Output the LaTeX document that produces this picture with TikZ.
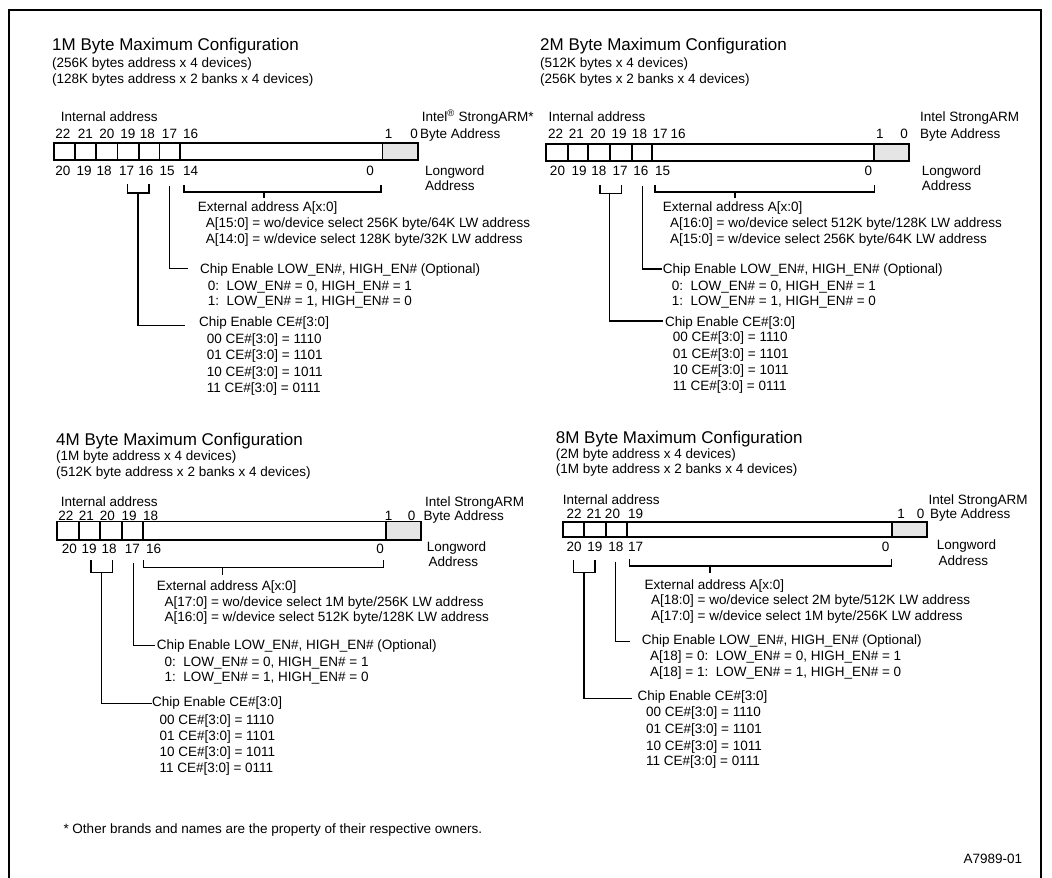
\documentclass[tikz,border=0pt]{standalone}
\usepackage{fontspec}
\setmainfont{Liberation Sans}
\newcommand\txtbody{\fontsize{13.5}{16}\selectfont}
\newcommand\txttitle{\fontsize{17}{20}\selectfont}
\definecolor{bytegray}{RGB}{229,229,229}
\tikzset{
  lbl/.style={anchor=base west, inner sep=0pt, font=\txtbody},
  ttl/.style={anchor=base west, inner sep=0pt, font=\txttitle},
  bitc/.style={anchor=base, inner sep=0pt, font=\txtbody},
  regline/.style={line width=1.8pt},
  wire/.style={line width=1.5pt},
}
\begin{document}
\begin{tikzpicture}[x=1pt,y=-1pt]
\useasboundingbox (0,0) rectangle (1052,878);
% outer frame
\draw[line width=1.8pt] (9,878) -- (9,10) -- (1041,10) -- (1041,878);

% ================= 1M byte configuration =================
\node[ttl] (q1t) at (52,50) {1M Byte Maximum Configuration};
\node[lbl] (q1s1) at (52,67) {(256K bytes address x 4 devices)};
\node[lbl] (q1s2) at (52,83) {(128K bytes address x 2 banks x 4 devices)};
\node[lbl] (q1ia) at (60.7,121.5) {Internal address};
\node[lbl] (q1arm) at (421.7,121.5) {Intel\textsuperscript{\textregistered} StrongARM*};
\node[lbl] (q1ba) at (420,138) {Byte Address};
\node[lbl] (q1lw) at (425,175) {Longword};
\node[lbl] (q1la) at (425,190.5) {Address};
% register
\filldraw[regline, fill=bytegray] (382.5,143) rectangle (418,160);
\draw[regline] (54,143) rectangle (418,160);
\foreach \x in {75,96,117.5,139,159.5,180} \draw[regline] (\x,143) -- (\x,160);
% bit numbers
\foreach \x/\t [count=\i] in {63/22,85.5/21,107/20,128/19,147.5/18,169.5/17}
  \node[bitc] (q1h\i) at (\x,138) {\t};
\node[lbl] (q1h7) at (183,138) {16};
\node[bitc] (q1h8) at (388.5,138) {1};
\node[bitc] (q1h9) at (414,138) {0};
\foreach \x/\t [count=\i] in {62.8/20,84.2/19,104.2/18,126.7/17,145.8/16,167.2/15}
  \node[bitc] (q1l\i) at (\x,175) {\t};
\node[lbl] (q1l7) at (183,175) {14};
\node[bitc] (q1l8) at (370,175) {0};
% field descriptions
\node[lbl] (q1ext) at (197.7,211) {External address A[x:0]};
\node[lbl] (q1ext1) at (205.7,227) {A[15:0] = wo/device select 256K byte/64K LW address};
\node[lbl] (q1ext2) at (205.7,243) {A[14:0] = w/device select 128K byte/32K LW address};
\node[lbl] (q1low) at (200,273.3) {Chip Enable LOW\_EN\#, HIGH\_EN\# (Optional)};
\node[lbl] (q1low0) at (207.7,290) {0:\ \ LOW\_EN\# = 0, HIGH\_EN\# = 1};
\node[lbl] (q1low1) at (207.7,305.5) {1:\ \ LOW\_EN\# = 1, HIGH\_EN\# = 0};
\node[lbl] (q1ce) at (199,326.7) {Chip Enable CE\#[3:0]};
\node[lbl] (q1ce0) at (206.7,343) {00 CE\#[3:0] = 1110};
\node[lbl] (q1ce1) at (206.7,359.5) {01 CE\#[3:0] = 1101};
\node[lbl] (q1ce2) at (206.7,376) {10 CE\#[3:0] = 1011};
\node[lbl] (q1ce3) at (206.7,392.5) {11 CE\#[3:0] = 0111};
% brackets and leaders
\coordinate (q1exA) at (184,185);
\coordinate (q1exB) at (381,185);
\coordinate (q1exM) at (264,192);
\coordinate (q1exT) at (264,197.5);
\draw[wire] (q1exA) -- (q1exA |- q1exM) -- (q1exB |- q1exM) -- (q1exB);
\draw[wire] (q1exM) -- (q1exT);
\coordinate (q1loT) at (169.5,186);
\draw[wire] (q1loT) |- ([xshift=-12.3pt,yshift=5pt]q1low.base west);
\coordinate (q1ceA) at (127.3,184);
\coordinate (q1ceB) at (149,184);
\coordinate (q1ceM) at (138.2,193);
\draw[wire] (q1ceA) -- (q1ceA |- q1ceM) -- (q1ceB |- q1ceM) -- (q1ceB);
\draw[wire] (q1ceM) |- ([xshift=-14pt,yshift=1.2pt]q1ce.base west);

% ================= 2M byte configuration =================
\node[ttl] (q2t) at (540,50) {2M Byte Maximum Configuration};
\node[lbl] (q2s1) at (540,67) {(512K bytes x 4 devices)};
\node[lbl] (q2s2) at (540,83) {(256K bytes x 2 banks x 4 devices)};
\node[lbl] (q2ia) at (548.3,121.7) {Internal address};
\node[lbl] (q2arm) at (920,121.7) {Intel StrongARM};
\node[lbl] (q2ba) at (920,138) {Byte Address};
\node[lbl] (q2lw) at (921.7,175) {Longword};
\node[lbl] (q2la) at (921.7,190.5) {Address};
\filldraw[regline, fill=bytegray] (874.3,144) rectangle (909.3,161);
\draw[regline] (546,144) rectangle (909.3,161);
\foreach \x in {567.7,588.3,610,631.7,651.7} \draw[regline] (\x,144) -- (\x,161);
\foreach \x/\t [count=\i] in {555.7/22,576.3/21,598/20,619.2/19,639.5/18}
  \node[bitc] (q2h\i) at (\x,138) {\t};
\node[lbl] (q2h6) at (652.5,138) {17};
\node[lbl] (q2h7) at (670.5,138) {16};
\node[bitc] (q2h8) at (879.8,138) {1};
\node[bitc] (q2h9) at (904.2,138) {0};
\foreach \x/\t [count=\i] in {557.5/20,579.2/19,598.8/18,620/17,640.8/16}
  \node[bitc] (q2l\i) at (\x,175) {\t};
\node[lbl] (q2l6) at (655,175) {15};
\node[bitc] (q2l7) at (868.3,175) {0};
\node[lbl] (q2ext) at (662.7,211.7) {External address A[x:0]};
\node[lbl] (q2ext1) at (670,227.3) {A[16:0] = wo/device select 512K byte/128K LW address};
\node[lbl] (q2ext2) at (670,243.3) {A[15:0] = w/device select 256K byte/64K LW address};
\node[lbl] (q2low) at (662.7,273.3) {Chip Enable LOW\_EN\#, HIGH\_EN\# (Optional)};
\node[lbl] (q2low0) at (671.7,290) {0:\ \ LOW\_EN\# = 0, HIGH\_EN\# = 1};
\node[lbl] (q2low1) at (671.7,305.3) {1:\ \ LOW\_EN\# = 1, HIGH\_EN\# = 0};
\node[lbl] (q2ce) at (665,326.7) {Chip Enable CE\#[3:0]};
\node[lbl] (q2ce0) at (672.7,341.7) {00 CE\#[3:0] = 1110};
\node[lbl] (q2ce1) at (672.7,358.3) {01 CE\#[3:0] = 1101};
\node[lbl] (q2ce2) at (672.7,374.8) {10 CE\#[3:0] = 1011};
\node[lbl] (q2ce3) at (672.7,390.8) {11 CE\#[3:0] = 0111};
\coordinate (q2exA) at (655,185);
\coordinate (q2exB) at (874.3,185);
\coordinate (q2exM) at (735,192);
\coordinate (q2exT) at (735,197.5);
\draw[wire] (q2exA) -- (q2exA |- q2exM) -- (q2exB |- q2exM) -- (q2exB);
\draw[wire] (q2exM) -- (q2exT);
\coordinate (q2loT) at (642.7,186);
\draw[wire] (q2loT) |- ([xshift=-0.5pt,yshift=4.3pt]q2low.base west);
\coordinate (q2ceA) at (600,185);
\coordinate (q2ceB) at (621.7,185);
\coordinate (q2ceM) at (609.3,193.3);
\draw[wire] (q2ceA) -- (q2ceA |- q2ceM) -- (q2ceB |- q2ceM) -- (q2ceB);
\draw[wire] (q2ceM) |- ([xshift=-2.3pt,yshift=5.7pt]q2ce.base west);

% ================= 4M byte configuration =================
\node[ttl] (q3t) at (56,445) {4M Byte Maximum Configuration};
\node[lbl] (q3s1) at (56,460.7) {(1M byte address x 4 devices)};
\node[lbl] (q3s2) at (56,476) {(512K byte address x 2 banks x 4 devices)};
\node[lbl] (q3ia) at (60.7,506.5) {Internal address};
\node[lbl] (q3arm) at (425,506.5) {Intel StrongARM};
\node[lbl] (q3ba) at (423.3,520) {Byte Address};
\node[lbl] (q3lw) at (426.7,551.7) {Longword};
\node[lbl] (q3la) at (428.3,566.7) {Address};
\filldraw[regline, fill=bytegray] (385.7,521.5) rectangle (421,540);
\draw[regline] (57.3,521.5) rectangle (421,540);
\foreach \x in {79.3,100,121.7,142.7} \draw[regline] (\x,521.5) -- (\x,540);
\foreach \x/\t [count=\i] in {65.8/22,86.3/21,107.5/20,129.2/19}
  \node[bitc] (q3h\i) at (\x,520) {\t};
\node[lbl] (q3h5) at (143,520) {18};
\node[bitc] (q3h6) at (388.5,520) {1};
\node[bitc] (q3h7) at (411.7,520) {0};
\foreach \x/\t [count=\i] in {69.5/20,89.2/19,109.2/18,132.5/17}
  \node[bitc] (q3l\i) at (\x,553.3) {\t};
\node[lbl] (q3l5) at (146,553.3) {16};
\node[bitc] (q3l6) at (380,553.3) {0};
\node[lbl] (q3ext) at (156.7,590) {External address A[x:0]};
\node[lbl] (q3ext1) at (164.3,606) {A[17:0] = wo/device select 1M byte/256K LW address};
\node[lbl] (q3ext2) at (164.3,621.7) {A[16:0] = w/device select 512K byte/128K LW address};
\node[lbl] (q3low) at (156.7,649.3) {Chip Enable LOW\_EN\#, HIGH\_EN\# (Optional)};
\node[lbl] (q3low0) at (164.3,666.7) {0:\ \ LOW\_EN\# = 0, HIGH\_EN\# = 1};
\node[lbl] (q3low1) at (164.3,681.7) {1:\ \ LOW\_EN\# = 1, HIGH\_EN\# = 0};
\node[lbl] (q3ce) at (152,706.7) {Chip Enable CE\#[3:0]};
\node[lbl] (q3ce0) at (159.3,724) {00 CE\#[3:0] = 1110};
\node[lbl] (q3ce1) at (159.3,740) {01 CE\#[3:0] = 1101};
\node[lbl] (q3ce2) at (159.3,756.7) {10 CE\#[3:0] = 1011};
\node[lbl] (q3ce3) at (159.3,772.3) {11 CE\#[3:0] = 0111};
\coordinate (q3exA) at (143.3,560);
\coordinate (q3exB) at (383.3,560);
\coordinate (q3exM) at (222.7,567.7);
\coordinate (q3exT) at (222.7,575);
\draw[wire] (q3exA) -- (q3exA |- q3exM) -- (q3exB |- q3exM) -- (q3exB);
\draw[wire] (q3exM) -- (q3exT);
\coordinate (q3loT) at (133.3,563.3);
\draw[wire] (q3loT) |- ([xshift=-1.7pt,yshift=3.6pt]q3low.base west);
\coordinate (q3ceA) at (91,560);
\coordinate (q3ceB) at (112.3,560);
\coordinate (q3ceM) at (101.7,572.7);
\draw[wire] (q3ceA) -- (q3ceA |- q3ceM) -- (q3ceB |- q3ceM) -- (q3ceB);
\draw[wire] (q3ceM) |- ([xshift=-0.5pt,yshift=3.4pt]q3ce.base west);

% ================= 8M byte configuration =================
\node[ttl] (q4t) at (555.7,443.3) {8M Byte Maximum Configuration};
\node[lbl] (q4s1) at (555.7,458.3) {(2M byte address x 4 devices)};
\node[lbl] (q4s2) at (555.7,473.3) {(1M byte address x 2 banks x 4 devices)};
\node[lbl] (q4ia) at (562.7,504.5) {Internal address};
\node[lbl] (q4arm) at (928.3,504.5) {Intel StrongARM};
\node[lbl] (q4ba) at (930,518) {Byte Address};
\node[lbl] (q4lw) at (936.7,549.5) {Longword};
\node[lbl] (q4la) at (938.3,565) {Address};
\filldraw[regline, fill=bytegray] (892.3,521.7) rectangle (926.7,537.3);
\draw[regline] (562.7,521.7) rectangle (926.7,537.3);
\foreach \x in {584.3,605.7,627.3} \draw[regline] (\x,521.7) -- (\x,537.3);
\foreach \x/\t [count=\i] in {574.2/22,594.2/21,612.5/20}
  \node[bitc] (q4h\i) at (\x,518) {\t};
\node[lbl] (q4h4) at (628,518) {19};
\node[bitc] (q4h5) at (901,518) {1};
\node[bitc] (q4h6) at (920.5,518) {0};
\foreach \x/\t [count=\i] in {574.2/20,594.8/19,615.8/18}
  \node[bitc] (q4l\i) at (\x,551.7) {\t};
\node[lbl] (q4l4) at (628,551.7) {17};
\node[bitc] (q4l5) at (885.5,551.7) {0};
\node[lbl] (q4ext) at (644.3,589.3) {External address A[x:0]};
\node[lbl] (q4ext1) at (651,604) {A[18:0] = wo/device select 2M byte/512K LW address};
\node[lbl] (q4ext2) at (651,620) {A[17:0] = w/device select 1M byte/256K LW address};
\node[lbl] (q4low) at (641.7,644) {Chip Enable LOW\_EN\#, HIGH\_EN\# (Optional)};
\node[lbl] (q4low0) at (650,660) {A[18] = 0:\ \ LOW\_EN\# = 0, HIGH\_EN\# = 1};
\node[lbl] (q4low1) at (650,676.7) {A[18] = 1:\ \ LOW\_EN\# = 1, HIGH\_EN\# = 0};
\node[lbl] (q4ce) at (637.3,700) {Chip Enable CE\#[3:0]};
\node[lbl] (q4ce0) at (646,716.7) {00 CE\#[3:0] = 1110};
\node[lbl] (q4ce1) at (646,733.3) {01 CE\#[3:0] = 1101};
\node[lbl] (q4ce2) at (646,750) {10 CE\#[3:0] = 1011};
\node[lbl] (q4ce3) at (646,765.5) {11 CE\#[3:0] = 0111};
\coordinate (q4exA) at (629.3,559.3);
\coordinate (q4exB) at (891.7,559.3);
\coordinate (q4exM) at (710,566);
\coordinate (q4exT) at (710,573.3);
\draw[wire] (q4exA) -- (q4exA |- q4exM) -- (q4exB |- q4exM) -- (q4exB);
\draw[wire] (q4exM) -- (q4exT);
\coordinate (q4loT) at (615.7,561.7);
\draw[wire] (q4loT) |- ([xshift=-11.7pt,yshift=2.3pt]q4low.base west);
\coordinate (q4ceA) at (573.3,560);
\coordinate (q4ceB) at (595,560);
\coordinate (q4ceM) at (584.2,572.3);
\draw[wire] (q4ceA) -- (q4ceA |- q4ceM) -- (q4ceB |- q4ceM) -- (q4ceB);
\draw[wire] (q4ceM) |- ([xshift=-5.6pt,yshift=1.7pt]q4ce.base west);

% ================= footer =================
\node[lbl] (note) at (63.3,833.3) {* Other brands and names are the property of their respective owners.};
\node[lbl] (figid) at (963.3,863) {A7989-01};
\end{tikzpicture}
\end{document}
